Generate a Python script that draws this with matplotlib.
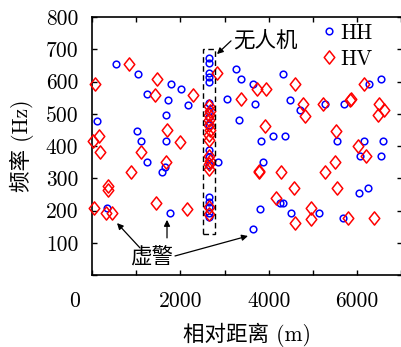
import matplotlib
matplotlib.use('Agg')
import matplotlib.pyplot as plt
from matplotlib.patches import Rectangle
from matplotlib.path import Path
import matplotlib.transforms as mtransforms

# ---------------- data ----------------
hh_x = [536, 1041, 1781, 2020, 1238, 1719, 2172, 113, 1667, 1025, 1115, 1667, 1238, 1645, 1584, 339, 1771,
        2650, 2650, 2650, 2650, 2650, 2650, 2650, 2650, 2650, 2650, 2650, 2650, 2650, 2650, 2650, 2650, 2650,
        2857, 3265, 3371, 3643, 4314, 3054, 3688, 4486, 4699, 5278, 5708, 6260, 6538, 3319, 3824, 4095, 4373,
        5543, 6161, 6577, 3869, 6057, 6538, 4253, 4321, 3808, 4509, 5129, 5679, 6048, 6244, 3636]
hh_y = [654, 622, 592, 576, 561, 543, 527, 478, 495, 447, 416, 416, 351, 336, 319, 207, 193,
        672, 658, 625, 613, 599, 532, 510, 490, 465, 388, 367, 341, 243, 227, 212, 191, 181,
        351, 639, 607, 592, 623, 545, 529, 544, 512, 529, 529, 592, 607, 480, 416, 431, 431,
        416, 416, 416, 351, 369, 369, 222, 222, 206, 192, 192, 176, 255, 271, 143]

hv_x = [844, 1471, 75, 1419, 2292, 1697, 152, 23, 1984, 174, 1115, 1681, 876, 362, 362, 38, 324, 452, 1455, 2149,
        2650, 2660, 2645, 2655, 2650, 2660, 2645, 2655, 2650, 2660, 2645, 2655, 2650, 2655,
        2821, 3733, 3943, 4600, 3371, 4774, 4826, 5219, 5860, 5830, 6160, 6486, 6600, 6471, 3921, 5520,
        6018, 6199, 5491, 5278, 3785, 3785, 4269, 4563, 5543, 4170, 4962, 4955, 4600, 5785, 6387]
hv_y = [654, 607, 593, 558, 558, 450, 431, 416, 413, 382, 382, 351, 318, 276, 264, 207, 193, 191, 222, 206,
        525, 510, 495, 480, 465, 450, 435, 420, 370, 355, 345, 330, 210, 190,
        625, 576, 576, 592, 545, 529, 494, 529, 545, 543, 592, 529, 512, 496, 463, 447,
        400, 369, 351, 319, 319, 322, 318, 271, 271, 240, 207, 174, 160, 176, 176]

x_ticks = [0, 1000, 2000, 3000, 4000, 5000, 6000, 7000]
x_ticklabels = ['0', '', '2000', '', '4000', '', '6000', '']
y_ticks = [0, 100, 200, 300, 400, 500, 600, 700, 800]
y_ticklabels = ['', '100', '200', '300', '400', '500', '600', '700', '800']

uav_box = (2510, 127, 275, 573)   # x, y, width, height
# ---------------------------------------

plt.rcParams['font.family'] = ['cmr10', 'Noto Sans CJK SC']
plt.rcParams['axes.unicode_minus'] = False
plt.rcParams['axes.formatter.use_mathtext'] = True

fig = plt.figure(figsize=(4.01, 3.47), dpi=100)
ax = fig.add_axes([92 / 401, 72 / 347, 310 / 401, 258 / 347])

diamond = Path([(0, 1), (0.8, 0), (0, -1), (-0.8, 0), (0, 1)],
               [Path.MOVETO, Path.LINETO, Path.LINETO, Path.LINETO, Path.CLOSEPOLY])
ax.plot(hh_x, hh_y, linestyle='none', marker='o', ms=4.8, mfc='none', mec='#0000ff', mew=1.1,
        label='HH', clip_on=False, zorder=3)
ax.plot(hv_x, hv_y, linestyle='none', marker=diamond, ms=9.5, mfc='none', mec='#ff0000', mew=1.1,
        label='HV', clip_on=False, zorder=3)

ax.add_patch(Rectangle((uav_box[0], uav_box[1]), uav_box[2], uav_box[3], fill=False,
                       edgecolor='black', lw=1.0, linestyle=(0, (4, 2.5)), zorder=4))

ax.set_xlim(0, 7014)
ax.set_ylim(0, 800)
ax.set_xticks(x_ticks)
ax.set_xticklabels(x_ticklabels)
ax.set_yticks(y_ticks)
ax.set_yticklabels(y_ticklabels)
ax.tick_params(direction='in', top=True, right=True, length=3.5, width=1.0, labelsize=15.5)
ax.tick_params(axis='x', pad=12)
ax.tick_params(axis='y', pad=10)
for s in ax.spines.values():
    s.set_linewidth(1.2)

# shift the "0" label like the reference
lab0 = ax.xaxis.get_major_ticks()[0].label1
lab0.set_transform(lab0.get_transform() + mtransforms.ScaledTranslation(-0.17, 0, fig.dpi_scale_trans))

ax.set_xlabel('相对距离 (m)', fontsize=15.5, labelpad=8)
ax.set_ylabel('频率 (Hz)', fontsize=15.5, labelpad=8)

leg = ax.legend(loc='upper left', bbox_to_anchor=(324 / 401, (347 - 23) / 347),
                bbox_transform=fig.transFigure, frameon=False, fontsize=15.5,
                handlelength=0.5, handletextpad=0.25, labelspacing=0.32, borderpad=0,
                borderaxespad=0, numpoints=1)

arrow = dict(arrowstyle='-|>', color='black', lw=0.9, mutation_scale=9, shrinkA=0, shrinkB=0)
ax.text(3914, 729, '无人机', fontsize=15.5, ha='center', va='center')
ax.annotate('', xy=(2828, 685), xytext=(3145, 726), arrowprops=arrow)

ax.text(1357, 56, '虚警', fontsize=15.5, ha='center', va='center')
ax.annotate('', xy=(566, 161), xytext=(1086, 84), arrowprops=arrow)
ax.annotate('', xy=(1697, 171), xytext=(1697, 115), arrowprops=arrow)
ax.annotate('', xy=(3529, 121), xytext=(1878, 59), arrowprops=arrow)

fig.savefig('out.png', dpi=100)
